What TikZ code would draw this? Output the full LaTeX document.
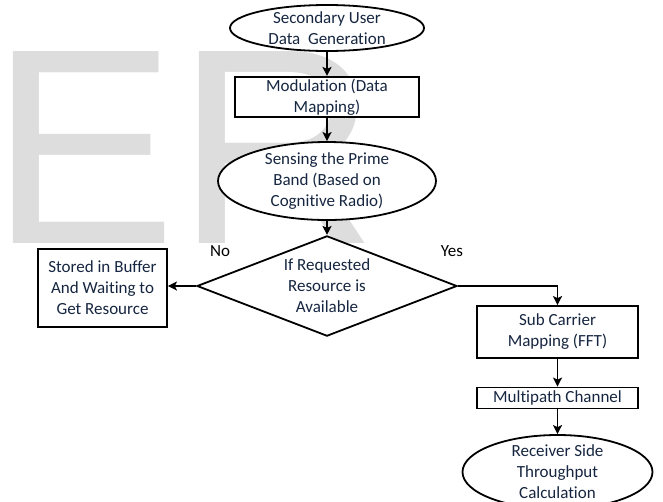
\documentclass[tikz,border=0pt]{standalone}
\usepackage{fontspec}
\setmainfont{Carlito}[Ligatures=NoCommon]
\newfontfamily\wmfont{Liberation Sans}
\usetikzlibrary{shapes.geometric,arrows.meta}
\definecolor{wmgray}{RGB}{221,221,221}
\definecolor{txtblue}{RGB}{22,38,64}

\begin{document}
\begin{tikzpicture}[x=1pt,y=-1pt,
  every node/.style={font=\fontsize{17}{21}\selectfont, text=txtblue, align=center},
  blk/.style ={draw, fill=white, line width=1.8pt, inner sep=2pt},
  term/.style={draw, fill=white, ellipse, line width=1.8pt, inner xsep=0pt, inner ysep=-20pt},
  cond/.style={draw, fill=white, diamond, line width=1.8pt, inner sep=-10pt},
  lbl/.style ={text=black, inner sep=0pt},
  arr/.style ={line width=1.8pt, -{Stealth[length=9pt,width=9pt,inset=2pt]}}]
  \useasboundingbox (0,0) rectangle (663,501);
  \clip (0,0) rectangle (663,501);
  \node[anchor=base west, inner sep=0pt, text=wmgray, font=\wmfont\fontsize{279}{279}\selectfont] (wmark) at (-10,243) {ER};
  \node[term, minimum width=194pt, minimum height=46pt] (gen)   at (327  , 28) {Secondary User\\Data\ \ Generation};
  \node[blk , minimum width=184pt, minimum height=40pt] (mod)   at (327  , 97) {Modulation (Data\\Mapping)};
  \node[term, minimum width=218pt, minimum height=78pt] (sense) at (327  ,181) {Sensing the Prime\\Band (Based on\\Cognitive Radio)};
  \node[cond, minimum width=260pt, minimum height=92pt] (avail) at (327  ,286) {If Requested\\Resource is\\Available};
  \node[blk , minimum width=129pt, minimum height=78pt] (buf)   at (102.5,288) {Stored in Buffer\\And Waiting to\\Get Resource};
  \node[blk , minimum width=161pt, minimum height=52pt] (sub)   at (557.5,332) {Sub Carrier\\Mapping (FFT)};
  \node[blk , minimum width=161pt, minimum height=21pt] (multi) at (557.5,398) {Multipath Channel};
  \node[term, minimum width=190pt, minimum height=74pt] (recv)  at (557.5,472) {Receiver Side\\Throughput\\Calculation};
  \node[lbl] (no)  at (220,251) {No};
  \node[lbl] (yes) at (452,251) {Yes};
  \draw[arr] (gen)   -- (mod);
  \draw[arr] (mod)   -- (sense);
  \draw[arr] (sense) -- (avail);
  \draw[arr] (avail.west) -- (avail.west -| buf.east);
  \draw[arr] (avail.east) -| (sub);
  \draw[arr] (sub)   -- (multi);
  \draw[arr] (multi) -- (recv);
\end{tikzpicture}
\end{document}
